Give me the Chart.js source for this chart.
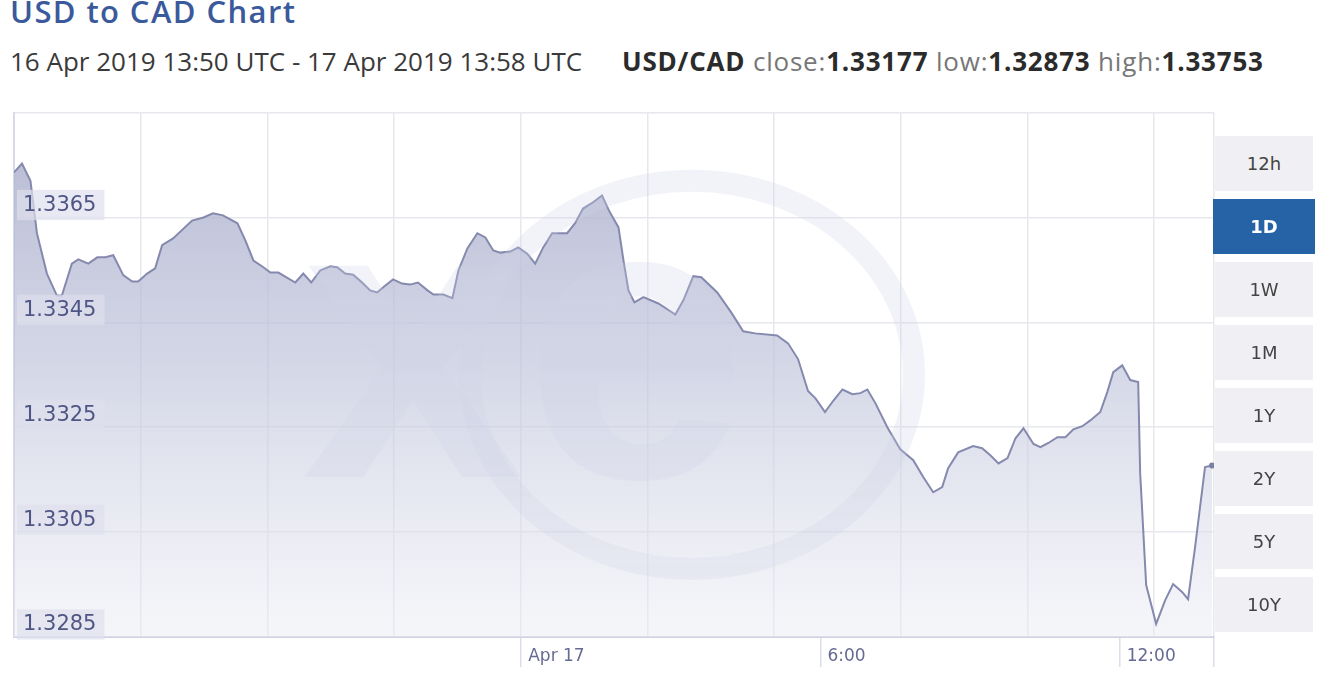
<!DOCTYPE html>
<html>
<head>
<meta charset="utf-8">
<script src="https://cdn.jsdelivr.net/npm/chart.js@4.4.1/dist/chart.umd.min.js"></script>
<style>
  html, body { margin: 0; padding: 0; background: #fff; }
  body { width: 1320px; height: 676px; position: relative; overflow: hidden; font-family: "Open Sans", sans-serif; }
  .title { position: absolute; left: 10px; top: -10px; font-size: 31px; font-weight: 600; letter-spacing: 1.4px; color: #3a5a9b; white-space: nowrap; }
  .sub { position: absolute; left: 10px; top: 43px; font-size: 26px; color: #3a3a3a; white-space: nowrap; }
  .pair { position: absolute; left: 622px; top: 43px; font-size: 26px; color: #3a3a3a; white-space: nowrap; letter-spacing: 0.8px; }
  .pair b { color: #2b2b2b; }
  .pair .lt { color: #777; }
  #wrap { position: absolute; left: 0; top: 91px; width: 1218px; height: 585px; }
  .btn { position: absolute; left: 1215px; width: 98px; height: 55px; background: #f0f0f4; color: #444;
         font-family: "DejaVu Sans", sans-serif; font-size: 18px; text-align: center; line-height: 55px; }
  .btn.on { background: #2563a6; color: #fff; font-weight: bold; left: 1213px; width: 102px; }
</style>
</head>
<body>
<div class="title">USD to CAD Chart</div>
<div class="sub">16 Apr 2019 13:50 UTC - 17 Apr 2019 13:58 UTC</div>
<div class="pair"><b>USD/CAD</b> <span class="lt">close:</span><b>1.33177</b> <span class="lt">low:</span><b>1.32873</b> <span class="lt">high:</span><b>1.33753</b></div>
<div id="wrap"><canvas id="fx"></canvas></div>
<div id="btns"></div>
<script>
// hours relative to 17 Apr 00:00 UTC
var times = [-10.17, -10.01, -9.84, -9.71, -9.51, -9.31, -9.21, -9.01, -8.88, -8.68,
  -8.50, -8.34, -8.18, -7.98, -7.80, -7.68, -7.50, -7.34, -7.20, -6.98,
  -6.60, -6.37, -6.18, -5.98, -5.69, -5.53, -5.37, -5.17, -5.03, -4.87,
  -4.53, -4.37, -4.21, -4.03, -3.83, -3.69, -3.53, -3.37, -3.19, -3.03,
  -2.89, -2.73, -2.57, -2.39, -2.23, -2.07, -1.88, -1.76, -1.56, -1.38,
  -1.26, -1.08, -0.88, -0.72, -0.56, -0.42, -0.22, -0.06, 0.12, 0.28,
  0.44, 0.62, 0.92, 1.08, 1.24, 1.44, 1.62, 1.76, 1.95, 2.05,
  2.15, 2.27, 2.45, 2.75, 2.93, 3.09, 3.25, 3.45, 3.61, 3.93,
  4.21, 4.45, 4.69, 5.13, 5.35, 5.55, 5.75, 5.90, 6.09, 6.26,
  6.44, 6.64, 6.80, 6.94, 7.10, 7.34, 7.60, 7.86, 8.06, 8.26,
  8.44, 8.56, 8.76, 9.06, 9.24, 9.40, 9.57, 9.75, 9.91, 10.07,
  10.27, 10.41, 10.57, 10.75, 10.91, 11.07, 11.25, 11.41, 11.61, 11.75,
  11.87, 12.05, 12.21, 12.37, 12.41, 12.53, 12.73, 12.91, 13.07, 13.25,
  13.37, 13.51, 13.71, 13.85];

var rates = [1.33736, 1.33753, 1.33720, 1.33620, 1.33543, 1.33501, 1.33501, 1.33562, 1.33570, 1.33562,
  1.33574, 1.33574, 1.33578, 1.33540, 1.33528, 1.33528, 1.33543, 1.33553, 1.33597, 1.33610,
  1.33644, 1.33650, 1.33658, 1.33654, 1.33639, 1.33606, 1.33568, 1.33555, 1.33545, 1.33545,
  1.33526, 1.33543, 1.33526, 1.33549, 1.33557, 1.33555, 1.33543, 1.33541, 1.33526, 1.33511,
  1.33507, 1.33520, 1.33532, 1.33524, 1.33522, 1.33526, 1.33511, 1.33503, 1.33503, 1.33496,
  1.33549, 1.33591, 1.33620, 1.33612, 1.33587, 1.33583, 1.33585, 1.33593, 1.33581, 1.33562,
  1.33593, 1.33620, 1.33620, 1.33639, 1.33667, 1.33679, 1.33692, 1.33663, 1.33631, 1.33568,
  1.33511, 1.33488, 1.33498, 1.33486, 1.33475, 1.33465, 1.33492, 1.33538, 1.33536, 1.33507,
  1.33469, 1.33433, 1.33429, 1.33425, 1.33410, 1.33380, 1.33319, 1.33305, 1.33279, 1.33301,
  1.33322, 1.33313, 1.33315, 1.33322, 1.33296, 1.33250, 1.33208, 1.33187, 1.33155, 1.33126,
  1.33136, 1.33172, 1.33202, 1.33214, 1.33210, 1.33197, 1.33181, 1.33191, 1.33229, 1.33248,
  1.33218, 1.33212, 1.33220, 1.33231, 1.33231, 1.33246, 1.33252, 1.33263, 1.33279, 1.33317,
  1.33355, 1.33368, 1.33340, 1.33336, 1.33162, 1.32949, 1.32875, 1.32920, 1.32951, 1.32936,
  1.32922, 1.33021, 1.33174, 1.33177];

var yTicks = [1.3285, 1.3305, 1.3325, 1.3345, 1.3365, 1.3385];
var labelHours = [0, 6, 12];
var labelTexts = ["Apr 17", "6:00", "12:00"];
var gridHours = [-10.17, -7.63, -5.09, -2.55, 0, 2.53, 5.07, 7.61, 10.15, 12.69, 13.89];
var ranges = ["12h", "1D", "1W", "1M", "1Y", "2Y", "5Y", "10Y"];

var X_MIN = -10.17, X_MAX = 13.89;

// range buttons
var btnBox = document.getElementById("btns");
ranges.forEach(function (r, i) {
  var d = document.createElement("div");
  d.className = "btn" + (r === "1D" ? " on" : "");
  d.style.top = (136 + i * 63) + "px";
  d.textContent = r;
  btnBox.appendChild(d);
});

// faint "xe" watermark
var watermark = {
  id: "watermark",
  afterDatasetsDraw: function (chart) {
    var a = chart.chartArea, c = chart.ctx;
    var w = a.right - a.left, h = a.bottom - a.top;
    c.save();
    c.beginPath();
    c.rect(a.left, a.top, w, h);
    c.clip();
    c.fillStyle = "rgba(208,211,228,0.27)";
    c.strokeStyle = "rgba(208,211,228,0.27)";
    c.lineWidth = 22;
    c.beginPath();
    c.ellipse(a.left + w * 0.565, a.top + h * 0.5, 222, 194, 0, 0, Math.PI * 2);
    c.stroke();
    c.font = "bold 400px 'Liberation Sans', Arial, sans-serif";
    c.textBaseline = "alphabetic";
    c.fillText("xe", a.left + w * 0.24, a.top + h * 0.695);
    c.restore();
  }
};

var ctx = document.getElementById("fx");
new Chart(ctx, {
  type: "line",
  data: {
    datasets: [{
      data: times.map(function (t, i) { return { x: t, y: rates[i] }; }),
      borderColor: "#8589ae",
      borderWidth: 2,
      tension: 0,
      fill: "start",
      backgroundColor: function (context) {
        var area = context.chart.chartArea;
        if (!area) return "rgba(200,203,220,0.8)";
        var g = context.chart.ctx.createLinearGradient(0, area.top, 0, area.bottom);
        g.addColorStop(0, "rgba(168,173,202,0.86)");
        g.addColorStop(0.5, "rgba(192,196,219,0.66)");
        g.addColorStop(1, "rgba(234,235,243,0.45)");
        return g;
      },
      pointRadius: function (c) { return c.dataIndex === times.length - 1 ? 3 : 0; },
      pointBackgroundColor: "#7b80a6",
      pointBorderWidth: 0
    }]
  },
  options: {
    responsive: true,
    maintainAspectRatio: false,
    animation: false,
    layout: { padding: { left: 14, top: 12, right: 0, bottom: 0 } },
    plugins: {
      legend: { display: false },
      tooltip: { enabled: false }
    },
    scales: {
      x: {
        type: "linear",
        min: X_MIN,
        max: X_MAX,
        afterBuildTicks: function (s) {
          var vals = gridHours.concat(labelHours.filter(function (v) { return gridHours.indexOf(v) < 0; }));
          vals.sort(function (a, b) { return a - b; });
          s.ticks = vals.map(function (v) { return { value: v }; });
        },
        afterFit: function (s) { s.height = 39; },
        grid: {
          color: function (c) { return c.tick && gridHours.indexOf(c.tick.value) >= 0 ? "#e7e8ee" : "rgba(0,0,0,0)"; },
          tickColor: function (c) {
            if (!c.tick) return "rgba(0,0,0,0)";
            return (labelHours.indexOf(c.tick.value) >= 0 || c.tick.value === X_MAX) ? "#dcdee8" : "rgba(0,0,0,0)";
          },
          tickLength: 30,
          lineWidth: 1.5
        },
        border: { color: "#cfd2e2", width: 2 },
        ticks: {
          autoSkip: false,
          maxRotation: 0,
          align: "start",
          labelOffset: 7,
          padding: -21,
          color: "#666b94",
          font: { family: "'DejaVu Sans', sans-serif", size: 17 },
          callback: function (v) {
            var i = labelHours.indexOf(v);
            return i >= 0 ? labelTexts[i] : "";
          }
        }
      },
      y: {
        min: yTicks[0],
        max: yTicks[yTicks.length - 1],
        afterBuildTicks: function (s) {
          s.ticks = yTicks.map(function (v) { return { value: v }; });
        },
        afterFit: function (s) { s.width = 0; },
        grid: { color: "#e7e8ee", drawTicks: false, lineWidth: 1.5 },
        border: { color: "#d8dae6", width: 2 },
        ticks: {
          z: 1,
          mirror: true,
          padding: 9,
          labelOffset: -12,
          color: "#4f5584",
          font: { family: "'DejaVu Sans', sans-serif", size: 21 },
          showLabelBackdrop: true,
          backdropColor: function (c) {
            return c.tick && c.tick.value < 1.338 ? "rgba(222,224,236,0.7)" : "rgba(0,0,0,0)";
          },
          backdropPadding: { top: 3, bottom: 2, left: 6, right: 8 },
          callback: function (v) { return v < 1.338 ? v.toFixed(4) : ""; }
        }
      }
    }
  },
  plugins: [watermark]
});
</script>
</body>
</html>
